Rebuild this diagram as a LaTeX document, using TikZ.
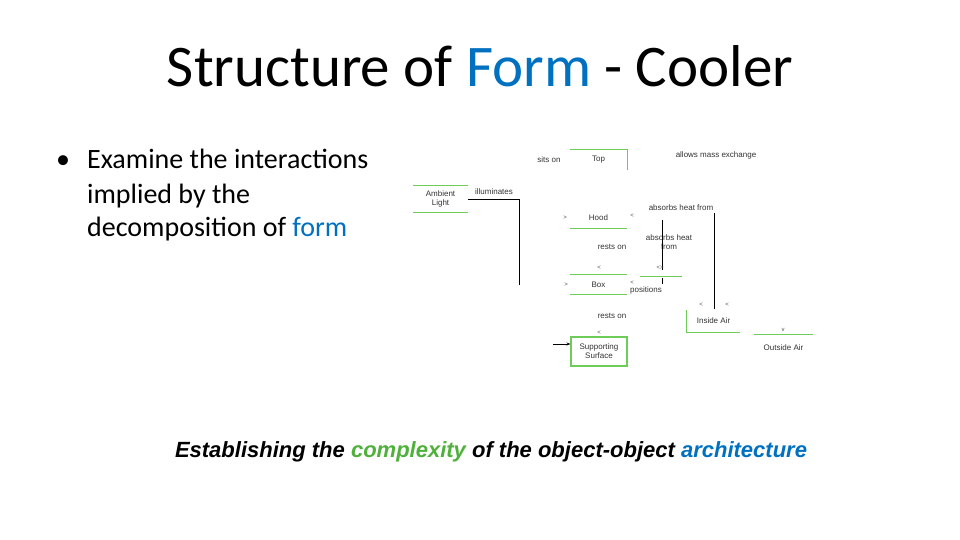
\documentclass[tikz,border=0pt]{standalone}
\usepackage{fontspec}
\setmainfont{Carlito}
\newfontfamily\capfont{Liberation Sans}
\newfontfamily\smallfont{Liberation Sans}
\usetikzlibrary{arrows.meta}
\definecolor{tblue}{RGB}{0,112,192}
\definecolor{cgreen}{RGB}{80,176,60}
\definecolor{lgreen}{RGB}{110,205,90}
\begin{document}
\begin{tikzpicture}[x=1pt,y=-1pt,
  lbl/.style={font=\smallfont\fontsize{8}{9}\selectfont, inner sep=0pt, text=black!80, align=center},
  portmark/.style={font=\smallfont\fontsize{6}{6}\selectfont, inner sep=0pt, text=black!70},
  gline/.style={draw=lgreen, line width=1.1pt},
  conn/.style={draw=black, line width=0.9pt},
  bodytext/.style={font=\fontsize{28}{34}\selectfont, inner sep=0pt, anchor=base west}]
\useasboundingbox (0,0) rectangle (960,540);

% title
\node[font=\fontsize{59}{65}\selectfont, inner sep=0pt, anchor=base] (title) at (480,87) {Structure of \textcolor{tblue}{Form} - Cooler};

% bullet
\node[bodytext] (bul) at (56,169) {\textbullet};
\node[bodytext] (b1) at (87,169) {Examine the interactions};
\node[bodytext] (b2) at (87,203) {implied by the};
\node[bodytext] (b3) at (87,236) {decomposition of \textcolor{tblue}{form}};

% caption
\node[font=\capfont\bfseries\itshape\fontsize{22}{26}\selectfont, inner sep=0pt, anchor=base] (cap) at (491,457)
  {Establishing the \textcolor{cgreen}{complexity} of the object-object \textcolor{tblue}{architecture}};

% diagram parts
\node[lbl, minimum width=55pt, minimum height=26pt] (amb) at (440.5,199) {Ambient\\Light};
\draw[gline] (amb.north west) -- (amb.north east);
\draw[gline] (amb.south west) -- (amb.south east);

\node[lbl, minimum width=57pt, minimum height=20pt] (top) at (598.5,160) {Top};
\draw[gline] (top.north west) -- (top.north east) -- (top.south east);

\node[lbl, minimum width=57pt, minimum height=20pt] (hood) at (598.5,218) {Hood};
\draw[gline] (hood.south west) -- (hood.south east);

\node[lbl, minimum width=57pt, minimum height=20pt] (box) at (598.5,284.5) {Box};
\draw[gline] (box.north west) -- (box.north east);
\draw[gline] (box.south west) -- (box.south east);

\node[lbl, minimum width=42pt, minimum height=20pt] (hx) at (661,287) {};
\draw[gline] (hx.north west) -- (hx.north east);

\node[lbl, minimum width=56pt, minimum height=29pt, draw=lgreen, line width=1.1pt] (sup) at (599,351.5) {Supporting\\Surface};

\node[lbl, minimum width=53pt, minimum height=22pt] (ins) at (713.5,321) {Inside Air};
\draw[gline] (ins.north west) -- (ins.south west) -- (ins.south east);

\node[lbl, minimum width=59pt, minimum height=26pt] (out) at (783.5,348) {Outside Air};
\draw[gline] (out.north west) -- (out.north east);

% connector labels
\node[lbl] (lsits) at (549,160) {sits on};
\node[lbl] (lill) at (494,192) {illuminates};
\node[lbl] (lmass) at (716,155) {allows mass exchange};
\node[lbl] (labs1) at (681,208) {absorbs heat from};
\node[lbl] (labs2) at (669,242.5) {absorbs heat\\from};
\node[lbl] (lrest1) at (612,247) {rests on};
\node[lbl] (lpos) at (646,290) {positions};
\node[lbl] (lrest2) at (612,316) {rests on};

% connectors
\coordinate (illend) at (519,285);
\draw[conn] (amb.east) -| (illend);
\coordinate (a1) at (662,220);
\coordinate (a2) at (662,270);
\draw[conn] (a1) -- (a2);
\coordinate (a3) at (662,278);
\coordinate (a4) at (662,284);
\draw[conn] (a3) -- (a4);
\coordinate (b1top) at (714,213);
\coordinate (b1bot) at (714,309);
\draw[conn] (b1top) -- (b1bot);
\coordinate (arrstart) at (553,344);
\draw[conn, line width=0.7pt, -{Stealth[length=4pt,width=3pt]}] (arrstart) -- (sup.west |- arrstart);

% small port marks
\node[portmark] (m1) at (565,218) {>};
\node[portmark] (m2) at (632,216) {<};
\node[portmark] (m3) at (599,268) {<};
\node[portmark] (m4) at (566,285) {>};
\node[portmark] (m5) at (632,283) {<};
\node[portmark] (m6) at (660,268) {<>};
\node[portmark] (m7) at (599,333) {<};
\node[portmark] (m8) at (701,305) {<};
\node[portmark] (m9) at (727,305) {<};
\node[portmark] (m10) at (783,330) {v};
\end{tikzpicture}
\end{document}
